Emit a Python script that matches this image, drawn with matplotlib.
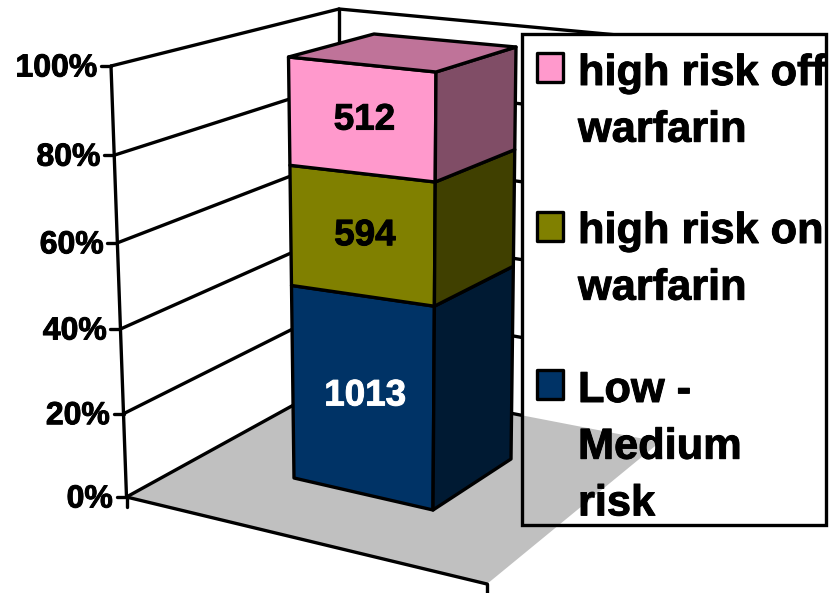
import matplotlib
matplotlib.use("Agg")
import matplotlib.pyplot as plt
import matplotlib.patheffects as pe
from matplotlib.patches import Polygon, Rectangle

plt.rcParams['font.family'] = ['Liberation Sans', 'DejaVu Sans']

# ---- data ----
series_names = ["Low -\nMedium\nrisk", "high risk on\nwarfarin", "high risk off\nwarfarin"]
series_counts = [1013, 594, 512]
data_label_colors = ["white", "black", "black"]
tick_values = [0, 20, 40, 60, 80, 100]
tick_labels = ["0%", "20%", "40%", "60%", "80%", "100%"]

# ---- styles ----
front_colors = ["#003366", "#808000", "#FF99CC"]
side_colors = ["#001A33", "#404000", "#804D66"]
top_color = "#BF7399"
floor_color = "#C0C0C0"
LW = 2.4

# ---- 3D view: vertical edges as (x0, y0, x1, y1, perspective) in figure pixels ----
LEFT_AXIS = (126.5, 497, 111, 66, 0.042)
BACK_EDGE = (339, 380, 339, 9, 0.0)
RIGHT_EDGE = (660, 442, 660, 39, 0.0)
FRONT_EDGE = (487, 584, 487, 584, 0.0)
BAR_LEFT = (294, 478, 288.5, 57, 0.08)
BAR_FRONT = (433, 510, 436, 72, 0.05)
BAR_RIGHT = (511, 459, 516, 47, 0.04)
BAR_BACK_TOP = (374, 34)
LEGEND_BOX = (522, 34, 826, 525)


def project(edge, frac):
    x0, y0, x1, y1, p = edge
    t = (1 - p) * frac / (1 - p * frac)
    return x0 + (x1 - x0) * t, y0 + (y1 - y0) * t


def heavy(color, width=0.7):
    return [pe.withStroke(linewidth=width, foreground=color)]


fig = plt.figure(figsize=(8.30, 5.93), dpi=100)
ax = fig.add_axes([0, 0, 1, 1])
ax.set_xlim(0, 830)
ax.set_ylim(593, 0)
ax.axis("off")


def line(a, b, z=2, lw=LW):
    ax.plot([a[0], b[0]], [a[1], b[1]], color="black", lw=lw, zorder=z,
            solid_capstyle="round")


# floor
floor_pts = [project(LEFT_AXIS, 0), project(BACK_EDGE, 0), project(RIGHT_EDGE, 0), project(FRONT_EDGE, 0)]
ax.add_patch(Polygon(floor_pts, closed=True, fc=floor_color, ec="none", zorder=1))
line(floor_pts[0], floor_pts[3])
line(floor_pts[3], (floor_pts[3][0], 593))

# walls and ticks
for v, lab in zip(tick_values, tick_labels):
    f = v / 100
    a = project(LEFT_AXIS, f)
    line(a, project(BACK_EDGE, f))
    line(project(BACK_EDGE, f), project(RIGHT_EDGE, f))
    line((a[0] - 10, a[1]), a)
    ax.text(a[0] - 13.5, a[1] - 1, lab, ha="right", va="center_baseline",
            fontsize=23, fontweight="bold", color="black", zorder=6,
            path_effects=heavy("black"))
line(project(LEFT_AXIS, 0), project(LEFT_AXIS, 1))
line(project(BACK_EDGE, 0), project(BACK_EDGE, 1))
line(project(LEFT_AXIS, 0), (project(LEFT_AXIS, 0)[0], 507))

# legend background; the floor still shows inside it
lx0, ly0, lx1, ly1 = LEGEND_BOX
ax.add_patch(Rectangle((lx0, ly0), lx1 - lx0, ly1 - ly0, fc="white", ec="none", zorder=3))
inner = Polygon(floor_pts, closed=True, fc=floor_color, ec="none", zorder=4)
ax.add_patch(inner)
inner.set_clip_path(Rectangle((lx0, ly0), lx1 - lx0, ly1 - ly0, transform=ax.transData))

# stacked bar
total = sum(series_counts)
cum = 0
for count, fc, sc, tc in zip(series_counts, front_colors, side_colors, data_label_colors):
    f0, f1 = cum / total, (cum + count) / total
    cum += count
    lb, lt = project(BAR_LEFT, f0), project(BAR_LEFT, f1)
    fb, ft = project(BAR_FRONT, f0), project(BAR_FRONT, f1)
    rb, rt = project(BAR_RIGHT, f0), project(BAR_RIGHT, f1)
    ax.add_patch(Polygon([lb, fb, ft, lt], closed=True, fc=fc, ec="black", lw=LW, zorder=5, joinstyle="round"))
    ax.add_patch(Polygon([fb, rb, rt, ft], closed=True, fc=sc, ec="black", lw=LW, zorder=5, joinstyle="round"))
    cx = (lb[0] + lt[0] + fb[0] + ft[0]) / 4 + 2
    cy = (lb[1] + lt[1] + fb[1] + ft[1]) / 4
    ax.text(cx, cy + 1, str(count), ha="center", va="center", fontsize=26.5,
            fontweight="bold", color=tc, zorder=6, path_effects=heavy(tc))
top_pts = [project(BAR_LEFT, 1), project(BAR_FRONT, 1), project(BAR_RIGHT, 1), BAR_BACK_TOP]
ax.add_patch(Polygon(top_pts, closed=True, fc=top_color, ec="black", lw=LW, zorder=5, joinstyle="round"))

# legend
ax.add_patch(Rectangle((lx0, ly0), lx1 - lx0, ly1 - ly0, fc="none", ec="black", lw=LW, zorder=6))
swatch_tops = [369, 211, 52]
first_baselines = [402, 243, 85]
LINE_H = 56.7
for name, fc, sy, by in zip(series_names, front_colors, swatch_tops, first_baselines):
    ax.add_patch(Rectangle((537, sy + 1), 26, 29, fc=fc, ec="black", lw=LW, zorder=6, joinstyle="round"))
    for i, part in enumerate(name.split("\n")):
        ax.text(578, by + i * LINE_H, part, ha="left", va="baseline", fontsize=31.2,
                fontweight="bold", color="black", zorder=7, path_effects=heavy("black"))

fig.savefig("out.png", dpi=100)
